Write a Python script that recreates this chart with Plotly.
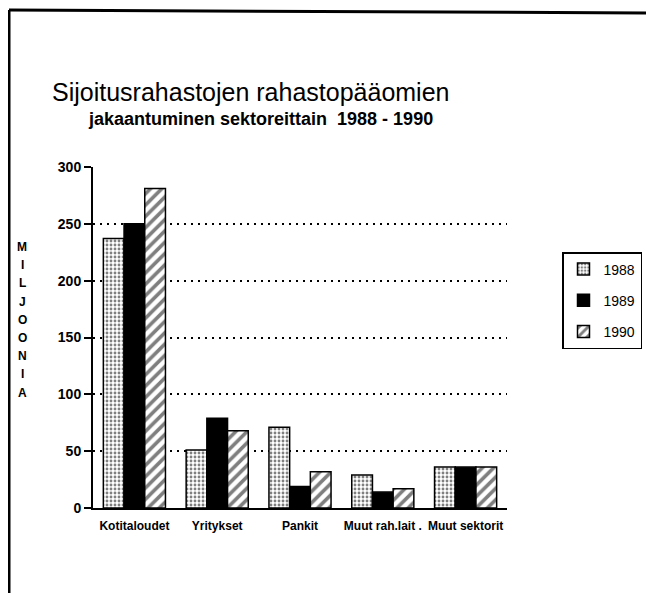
import plotly.graph_objects as go

categories = ["Kotitaloudet", "Yritykset", "Pankit", "Muut rah.lait .", "Muut sektorit"]
years = ["1988", "1989", "1990"]
v1988 = [237, 51, 71, 29, 36]
v1989 = [250, 79, 19, 14, 36]
v1990 = [281, 68, 32, 17, 36]
yticks = [0, 50, 100, 150, 200, 250, 300]
ylabel_letters = ["M", "I", "L", "J", "O", "O", "N", "I", "A"]

OFF = 8  # default page body margin
W, H = 654 - OFF, 593 - OFF
# plot area in page pixels: x 93..507, y 167..508
L, T = 93 - OFF, 167 - OFF
PW, PH = 414, 341
R, B = W - L - PW, H - T - PH


def px(xpage):
    return (xpage - OFF - L) / PW


def py(ypage):
    return (T + PH - (ypage - OFF)) / PH


FONT = "Liberation Sans, Arial, Helvetica, sans-serif"

styles = [
    dict(color="white", pattern=dict(shape=".", fgcolor="black", bgcolor="white", size=4, solidity=0.4)),
    dict(color="black"),
    dict(color="white", pattern=dict(shape="/", fgcolor="black", bgcolor="white", size=8, solidity=0.45)),
]

fig = go.Figure()
for name, vals, st in zip(years, [v1988, v1989, v1990], styles):
    fig.add_trace(go.Bar(
        x=categories, y=vals, name=name, legendgroup=name,
        marker=dict(line=dict(color="black", width=1.5), **st),
    ))

fig.update_layout(
    width=W, height=H,
    margin=dict(l=L, r=R, t=T, b=B, autoexpand=False),
    paper_bgcolor="white", plot_bgcolor="white",
    barmode="group", bargap=0.25, bargroupgap=0,
    font=dict(family=FONT, color="black"),
    showlegend=True,
    legend=dict(
        x=px(562), y=py(252), xanchor="left", yanchor="top",
        bgcolor="white", bordercolor="black", borderwidth=1.5,
        font=dict(size=14, family=FONT), traceorder="grouped", tracegroupgap=10,
        itemwidth=30,
    ),
)

fig.update_xaxes(
    showline=True, linecolor="black", linewidth=2,
    ticks="", showgrid=False, tickangle=0, ticklabelstandoff=6,
    tickfont=dict(size=12, family=FONT, weight="bold"),
)
fig.update_yaxes(
    range=[0, 300], tickvals=yticks,
    showline=True, linecolor="black", linewidth=2,
    ticks="outside", ticklen=7, tickwidth=2, tickcolor="black",
    showgrid=True, gridcolor="black", gridwidth=2, griddash="2px,5px",
    zeroline=False,
    tickfont=dict(size=14, family=FONT, weight="bold"),
)

annotations = [
    dict(text="Sijoitusrahastojen rahastopääomien", x=px(250), y=py(92),
         xref="paper", yref="paper", xanchor="center", yanchor="middle", showarrow=False,
         font=dict(size=25, family=FONT)),
    dict(text="jakaantuminen sektoreittain  1988 - 1990", x=px(260), y=py(119),
         xref="paper", yref="paper", xanchor="center", yanchor="middle", showarrow=False,
         font=dict(size=18, family=FONT, weight="bold")),
]
for i, ch in enumerate(ylabel_letters):
    annotations.append(dict(
        text=ch, x=px(22), y=py(247 + i * 18.2), xref="paper", yref="paper",
        xanchor="center", yanchor="middle",
        showarrow=False, font=dict(size=12, family=FONT, weight="bold"),
    ))
fig.update_layout(annotations=annotations)

# outer frame (partly cut off by the page edges)
frame = dict(color="black", width=3)
fig.add_shape(type="line", xref="paper", yref="paper",
              x0=px(9), y0=py(10), x1=px(660), y1=py(13), line=frame)
fig.add_shape(type="line", xref="paper", yref="paper",
              x0=px(9), y0=py(10), x1=px(9), y1=py(600), line=frame)

fig.write_html("out.html")
